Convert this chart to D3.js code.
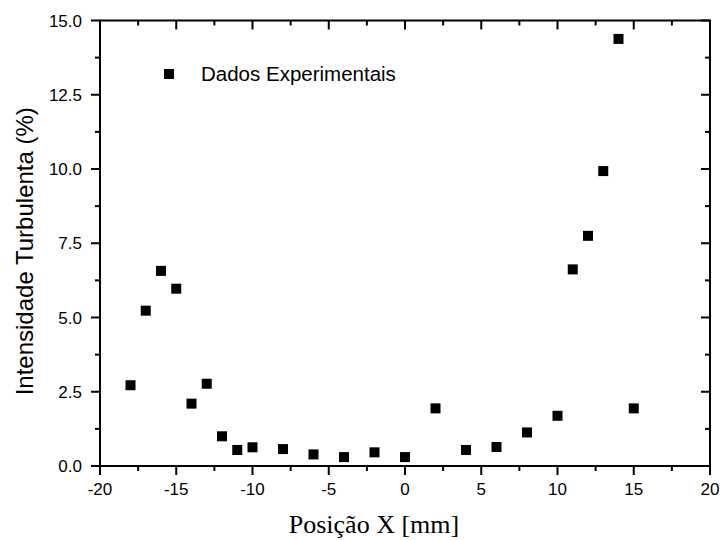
<!DOCTYPE html>
<html>
<head>
  <meta charset="utf-8">
  <script src="https://d3js.org/d3.v7.min.js"></script>
  <style>
    body { margin: 0; background: white; }
  </style>
</head>
<body>
  <div id="chart"></div>
  <script>
    // data
    var posX = [-18, -17, -16, -15, -14, -13, -12, -11, -10, -8, -6, -4, -2, 0, 2, 4, 6, 8, 10, 11, 12, 13, 14, 15];
    var intensidade = [2.72, 5.23, 6.57, 5.97, 2.10, 2.77, 1.00, 0.54, 0.63, 0.57, 0.39, 0.30, 0.46, 0.30, 1.94, 0.54, 0.64, 1.13, 1.69, 6.62, 7.75, 9.93, 14.38, 1.94];
    var xTicks = [-20, -15, -10, -5, 0, 5, 10, 15, 20];
    var yTicks = [0, 2.5, 5, 7.5, 10, 12.5, 15];
    var legendLabel = "Dados Experimentais";

    var width = 720, height = 540;
    var margin = { left: 100, right: 10, top: 20.5, bottom: 74 };
    var majorLen = 9, minorLen = 5, mark = 10;
    var sans = "Arial, 'Liberation Sans', sans-serif";

    var svg = d3.select("#chart").append("svg")
      .attr("width", width)
      .attr("height", height);

    var x = d3.scaleLinear().domain([-20, 20]).range([margin.left, width - margin.right]);
    var y = d3.scaleLinear().domain([0, 15]).range([height - margin.bottom, margin.top]);

    var xMinor = d3.range(-17.5, 20, 5);
    var yMinor = d3.range(1.25, 15, 2.5);

    // tick marks: bottom/left point out, top/right point in
    var ticks = svg.append("g").attr("stroke", "black").attr("stroke-width", 2);

    function xTickLines(vals, len) {
      ticks.selectAll(null).data(vals).enter().append("line")
        .attr("x1", d => x(d)).attr("x2", d => x(d))
        .attr("y1", y(0)).attr("y2", y(0) + len);
      ticks.selectAll(null).data(vals).enter().append("line")
        .attr("x1", d => x(d)).attr("x2", d => x(d))
        .attr("y1", y(15)).attr("y2", y(15) + len);
    }
    function yTickLines(vals, len) {
      ticks.selectAll(null).data(vals).enter().append("line")
        .attr("y1", d => y(d)).attr("y2", d => y(d))
        .attr("x1", x(-20)).attr("x2", x(-20) - len);
      ticks.selectAll(null).data(vals).enter().append("line")
        .attr("y1", d => y(d)).attr("y2", d => y(d))
        .attr("x1", x(20)).attr("x2", x(20) - len);
    }
    xTickLines(xTicks, majorLen);
    xTickLines(xMinor, minorLen);
    yTickLines(yTicks, majorLen);
    yTickLines(yMinor, minorLen);

    // tick labels (plain hyphen for negatives, as in the original)
    svg.append("g").selectAll("text")
      .data(xTicks).enter().append("text")
      .attr("x", d => x(d))
      .attr("y", y(0) + 29)
      .attr("text-anchor", "middle")
      .attr("font-family", sans)
      .attr("font-size", 17)
      .text(d => String(d));

    svg.append("g").selectAll("text")
      .data(yTicks).enter().append("text")
      .attr("x", x(-20) - 18)
      .attr("y", d => y(d) + 6)
      .attr("text-anchor", "end")
      .attr("font-family", sans)
      .attr("font-size", 17)
      .text(d3.format(".1f"));

    // frame
    svg.append("rect")
      .attr("x", x(-20))
      .attr("y", y(15))
      .attr("width", x(20) - x(-20))
      .attr("height", y(0) - y(15))
      .attr("fill", "none")
      .attr("stroke", "black")
      .attr("stroke-width", 2);

    // points
    svg.append("g").selectAll("rect")
      .data(posX)
      .enter().append("rect")
      .attr("x", d => x(d) - mark / 2)
      .attr("y", (d, i) => y(intensidade[i]) - mark / 2)
      .attr("width", mark)
      .attr("height", mark)
      .attr("fill", "black");

    // legend
    svg.append("rect")
      .attr("x", 164).attr("y", 69)
      .attr("width", mark).attr("height", mark)
      .attr("fill", "black");
    svg.append("text")
      .attr("x", 201).attr("y", 81)
      .attr("font-family", sans)
      .attr("font-size", 20.5)
      .text(legendLabel);

    // axis titles
    svg.append("text")
      .attr("transform", "translate(33," + ((y(0) + y(15)) / 2 + 8) + ") rotate(-90)")
      .attr("text-anchor", "middle")
      .attr("font-family", sans)
      .attr("font-size", 24)
      .text("Intensidade Turbulenta (%)");
    svg.append("text")
      .attr("x", 374).attr("y", 533)
      .attr("text-anchor", "middle")
      .attr("font-family", "'Times New Roman', 'Liberation Serif', serif")
      .attr("font-size", 26)
      .text("Posição X [mm]");
  </script>
</body>
</html>
